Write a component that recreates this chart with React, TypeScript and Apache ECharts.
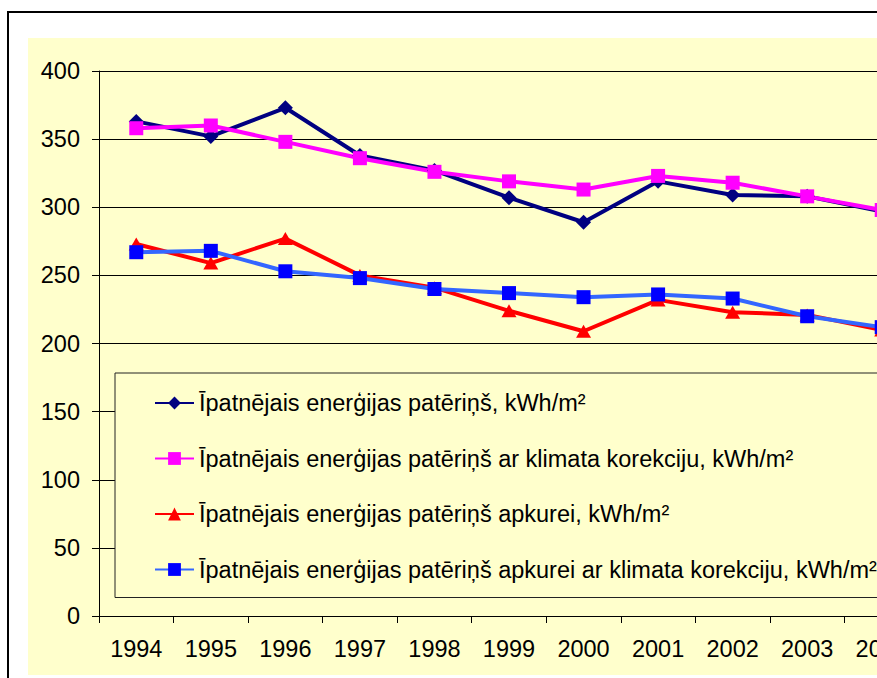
import { useEffect, useRef } from "react";
import * as echarts from "echarts";

const years = ["1994", "1995", "1996", "1997", "1998", "1999", "2000", "2001", "2002", "2003", "2004"];
const totalUse = [363, 352, 373, 338, 327, 307, 289, 319, 309, 308, 297];
const totalUseClimate = [358, 360, 348, 336, 326, 319, 313, 323, 318, 308, 298];
const heatingUse = [273, 259, 277, 250, 241, 224, 209, 232, 223, 221, 210];
const heatingUseClimate = [267, 268, 253, 248, 240, 237, 234, 236, 233, 220, 212];
const seriesNames = [
  "Īpatnējais enerģijas patēriņš, kWh/m²",
  "Īpatnējais enerģijas patēriņš ar klimata korekciju, kWh/m²",
  "Īpatnējais enerģijas patēriņš apkurei, kWh/m²",
  "Īpatnējais enerģijas patēriņš apkurei ar klimata korekciju, kWh/m²",
];

const FONT = "'Liberation Sans', Arial, sans-serif";

export default function App() {
  const ref = useRef<HTMLDivElement>(null);
  useEffect(() => {
    if (!ref.current) return;
    const chart = echarts.init(ref.current, null, { renderer: "svg" });
    const mk = (name: string, data: number[], line: string, fill: string, symbol: string, size: any) => ({
      name,
      type: "line",
      data,
      symbol,
      symbolSize: size,
      lineStyle: { color: line, width: 4 },
      itemStyle: { color: fill, borderWidth: 0 },
      emphasis: { disabled: true },
    });
    chart.setOption({
      animation: false,
      textStyle: { fontFamily: FONT },
      graphic: [
        { type: "rect", z: -20, shape: { x: 8, y: 12, width: 1200, height: 900 }, style: { fill: "#fff", stroke: "#000", lineWidth: 2 } },
        { type: "rect", z: -19, shape: { x: 28, y: 38, width: 1200, height: 637 }, style: { fill: "#FFFFCC" } },
      ],
      grid: { left: 99, top: 71, width: 820, height: 545, containLabel: false },
      xAxis: {
        type: "category",
        data: years,
        boundaryGap: true,
        axisLine: { lineStyle: { color: "#000", width: 1 } },
        axisTick: { show: true, length: 7, lineStyle: { color: "#000" } },
        axisLabel: { color: "#000", fontSize: 23.5, margin: 21, fontFamily: FONT },
        splitLine: { show: false },
      },
      yAxis: {
        type: "value",
        min: 0,
        max: 400,
        interval: 50,
        axisLine: { show: true, lineStyle: { color: "#000", width: 1 } },
        axisTick: { show: true, length: 7, lineStyle: { color: "#000" } },
        axisLabel: { color: "#000", fontSize: 23.5, margin: 19, fontFamily: FONT },
        splitLine: { show: true, lineStyle: { color: "#000", width: 1 } },
      },
      legend: {
        orient: "vertical",
        left: 115,
        top: 373,
        padding: [18, 60, 16, 39],
        itemGap: 31.5,
        itemWidth: 39,
        itemHeight: 16,
        backgroundColor: "#FFFFCC",
        borderColor: "#222",
        borderWidth: 1,
        textStyle: { color: "#000", fontSize: 23.5, fontFamily: FONT, padding: [0, 0, 0, 0] },
        data: seriesNames,
      },
      series: [
        mk(seriesNames[0], totalUse, "#000080", "#000080", "diamond", 15),
        mk(seriesNames[1], totalUseClimate, "#FF00FF", "#FF00FF", "rect", 14),
        mk(seriesNames[2], heatingUse, "#FF0000", "#FF0000", "triangle", [15, 13]),
        mk(seriesNames[3], heatingUseClimate, "#3366FF", "#0000FF", "rect", 14),
      ],
    });
    return () => chart.dispose();
  }, []);
  return (
    <div style={{ position: "fixed", left: 0, top: 0, width: 877, height: 678, overflow: "hidden", background: "#fff" }}>
      <div ref={ref} style={{ width: 1000, height: 678 }} />
    </div>
  );
}
